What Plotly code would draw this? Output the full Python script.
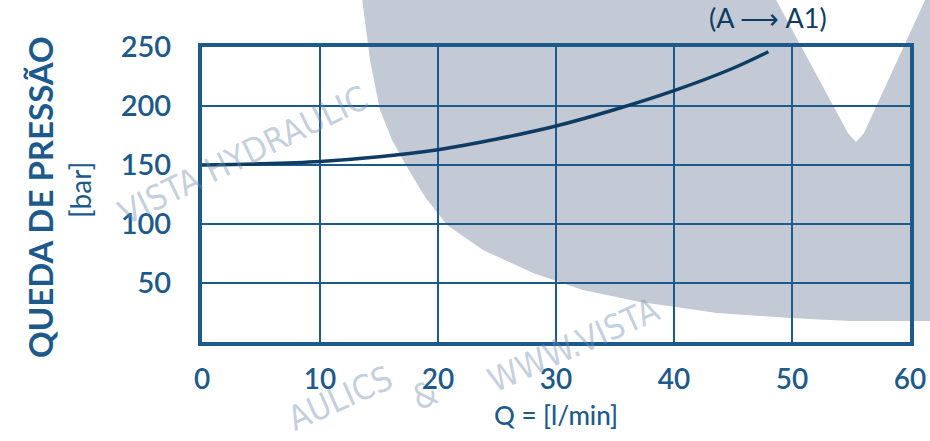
import plotly.graph_objects as go

# flow Q [l/min] and pressure drop [bar] (A -> A1)
flow = [0, 5, 10, 15, 20, 25, 30, 35, 40, 45, 48]
pressure = [150, 151, 153, 157, 163, 172, 183, 197, 213, 232, 246]

x_ticks = [0, 10, 20, 30, 40, 50, 60]
y_ticks = [50, 100, 150, 200, 250]

W, H = 930, 441
L, R, T, B = 202, 20, 47, 99
blue = "#1d5a8c"
navy = "#0e3c62"


def px(x, y):
    # page pixels -> paper coords (used only for the background decoration)
    return (x - L) / (W - L - R), (H - B - y) / (H - T - B)


gray_outline = [(362, -2), (775, -2), (848, 133), (856, 142), (864, 133), (926, -2),
                (932, -2), (932, 321), (850, 321), (790, 318), (717, 313), (683, 308),
                (640, 302), (583, 290), (533, 273), (483, 250), (447, 225), (425, 197),
                (407, 167), (392, 140), (380, 110), (370, 60)]
path = "M " + " L ".join("%.4f,%.4f" % px(a, b) for a, b in gray_outline) + " Z"

fig = go.Figure()
fig.add_trace(go.Scatter(x=flow, y=pressure, mode="lines",
                         line=dict(color=navy, width=3.5, shape="spline"),
                         showlegend=False, hoverinfo="skip"))

fig.add_shape(type="path", path=path, xref="paper", yref="paper",
              fillcolor="#c3c9d5", line_width=0, layer="below")

font = "Lato, 'Open Sans', sans-serif"
fig.update_layout(
    width=W, height=H,
    margin=dict(l=L, r=R, t=T, b=B),
    paper_bgcolor="white", plot_bgcolor="rgba(0,0,0,0)",
    font=dict(family=font, color=blue),
)
fig.update_xaxes(range=[0, 60], tickvals=x_ticks, showgrid=True, gridcolor=blue, gridwidth=2,
                 showline=True, linecolor=blue, linewidth=4, mirror=True, zeroline=False,
                 ticks="", automargin=False, ticklabelstandoff=9,
                 tickfont=dict(size=28, color=blue, weight=600),
                 title=dict(text="Q = [l/min]", font=dict(size=26, color=blue, weight=500), standoff=14))
fig.update_yaxes(range=[0, 250], tickvals=y_ticks, showgrid=True, gridcolor=blue, gridwidth=2,
                 showline=True, linecolor=blue, linewidth=4, mirror=True, zeroline=False,
                 ticks="", ticklabelstandoff=21, automargin=False,
                 tickfont=dict(size=29, color=blue, weight=600))

# y-axis title as two rotated lines
fig.add_annotation(text="QUEDA DE PRESSÃO", x=px(40, 0)[0], y=px(0, 197)[1],
                   xref="paper", yref="paper", textangle=-90, showarrow=False,
                   xanchor="center", yanchor="middle",
                   font=dict(size=33, color=blue, family=font, weight=700))
fig.add_annotation(text="[bar]", x=px(80, 0)[0], y=px(0, 190)[1],
                   xref="paper", yref="paper", textangle=-90, showarrow=False,
                   xanchor="center", yanchor="middle",
                   font=dict(size=28, color=blue, family=font))

fig.add_annotation(text="(A ⟶ A1)", x=px(768, 0)[0], y=1.0, xref="paper", yref="paper",
                   xanchor="center", yanchor="bottom", yshift=11, showarrow=False,
                   font=dict(size=27, color=navy, family=font))

wm = dict(size=34, color="rgba(110,140,175,0.42)",
          family="'DejaVu Sans Condensed', 'Liberation Sans Narrow', sans-serif")
for txt, (ax, ay), ang in [("VISTA HYDRAULIC", (243, 155), -26),
                           ("&", (425, 395), -22),
                           ("WWW.VISTA", (573, 345), -24),
                           ("AULICS", (340, 398), -24)]:
    qx, qy = px(ax, ay)
    fig.add_annotation(text=txt, x=qx, y=qy, xref="paper", yref="paper", showarrow=False,
                       xanchor="center", yanchor="middle", textangle=ang, font=wm)

fig.write_html("out.html", config={"displayModeBar": False},
               post_script="document.body.style.margin='0';")
